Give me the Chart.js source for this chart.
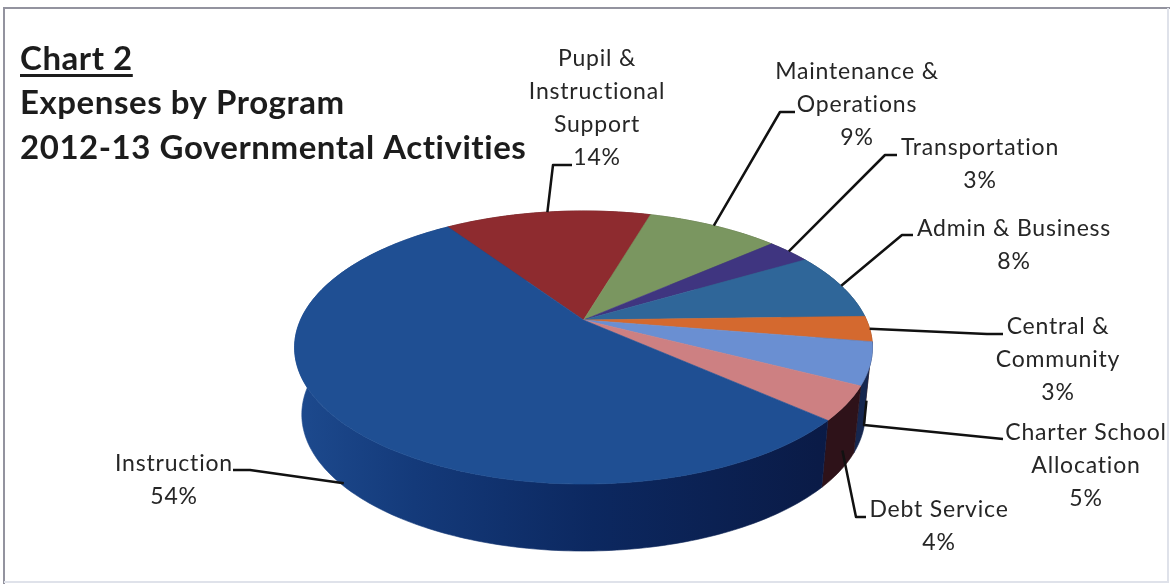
<!DOCTYPE html>
<html>
<head>
<meta charset="utf-8">
<title>Expenses by Program</title>
<script src="https://cdn.jsdelivr.net/npm/chart.js@4"></script>
<style>
  html, body { margin: 0; padding: 0; background: #fff; }
  canvas { display: block; }
</style>
</head>
<body>
<canvas id="chart" width="1170" height="585"></canvas>
<script>
// Program categories, clockwise from the upper left of the pie
const categories = ['Pupil & Instructional Support', 'Maintenance & Operations', 'Transportation',
  'Admin & Business', 'Central & Community', 'Charter School Allocation', 'Debt Service', 'Instruction'];
const shares = [14, 9, 3, 8, 3, 5, 4, 54];
const titleLines = ['Chart 2', 'Expenses by Program', '2012-13 Governmental Activities'];
const labelLines = [
  ['Pupil &', 'Instructional', 'Support'],
  ['Maintenance &', 'Operations'],
  ['Transportation'],
  ['Admin & Business'],
  ['Central &', 'Community'],
  ['Charter School', 'Allocation'],
  ['Debt Service'],
  ['Instruction']
];
const topColors = ['#8e2b2f', '#7a9660', '#3f3580', '#2f6699', '#d4692f', '#6a8fd2', '#cd8082', '#1f4f93'];
const wallColors = ['#5c1a1d', '#4f6339', '#29224f', '#1c4064', '#7d3a15', '#16274f', '#2e1219', '#0f2c66'];

// Label block centres and leader paths (slice anchor is computed from the arc)
const labelBoxes = [
  { x: 597, y: 59 }, { x: 857, y: 72 }, { x: 980, y: 148 }, { x: 1014, y: 229 },
  { x: 1058, y: 327 }, { x: 1086, y: 433 }, { x: 939, y: 510 }, { x: 174, y: 464 }
];
const leaderBends = [
  [[553, 165], [572, 165]],
  [[780, 112], [795, 112]],
  [[885, 155], [897, 155]],
  [[902, 235], [913, 235]],
  [[987, 334], [1003, 334]],
  [[864, 425], [1003, 439]],
  [[856, 517], [866, 517]],
  [[250, 470], [233, 470]]
];
const leaderDepth = [0, 0, 0, 0, 0, 0.55, 0.7, 0.95];

// Oblique view of the disc: a circle under a one-point perspective
const view = { cx: 583.5, cy: 320, a: 283, b: 131, k: -0.2015, depth: 67, shrink: 0.975 };
function project(angle, level) {
  const X = Math.cos(angle), Y = Math.sin(angle);
  const w = 1 + view.k * Y;
  const s = 1 + (view.shrink - 1) * level;
  return {
    x: view.cx + s * view.a * X / w,
    y: view.cy + view.b * Y / w + view.depth * level
  };
}
function rimAngles(start, end) {
  const steps = Math.max(2, Math.ceil((end - start) / (Math.PI / 180)));
  const out = [];
  for (let i = 0; i <= steps; i++) out.push(start + (end - start) * i / steps);
  return out;
}

const disc3d = {
  id: 'disc3d',
  beforeDraw(chart) {
    const c = chart.ctx;
    c.save();
    c.strokeStyle = '#93939f';
    c.lineWidth = 2;
    c.beginPath();
    c.moveTo(4, 584); c.lineTo(4, 8); c.lineTo(1170, 8);
    c.stroke();
    c.strokeStyle = '#dfe2ea';
    c.beginPath();
    c.moveTo(4, 582); c.lineTo(1168, 582); c.lineTo(1168, 8);
    c.stroke();
    c.restore();
    // Slightly open tracking for the bold title block
    c.letterSpacing = '0.55px';
  },
  beforeDatasetDraw(chart, args) {
    const c = chart.ctx;
    c.letterSpacing = '0px';
    const arcs = chart.getDatasetMeta(args.index).data;
    c.save();
    // Outer wall, back to front
    const order = arcs.map((_, i) => i).sort((p, q) =>
      Math.sin((arcs[p].startAngle + arcs[p].endAngle) / 2) - Math.sin((arcs[q].startAngle + arcs[q].endAngle) / 2));
    order.forEach(i => {
      const arc = arcs[i];
      const ring = rimAngles(arc.startAngle, arc.endAngle);
      c.beginPath();
      ring.forEach((t, n) => { const p = project(t, 0); n ? c.lineTo(p.x, p.y) : c.moveTo(p.x, p.y); });
      ring.slice().reverse().forEach(t => { const p = project(t, 1); c.lineTo(p.x, p.y); });
      c.closePath();
      let fill = wallColors[i];
      if (i === arcs.length - 1) {
        fill = c.createLinearGradient(295, 0, 835, 0);
        fill.addColorStop(0, '#1d4a8e');
        fill.addColorStop(0.22, '#143a7a');
        fill.addColorStop(0.55, '#0c2860');
        fill.addColorStop(1, '#0a1a45');
      }
      c.fillStyle = fill;
      c.strokeStyle = fill;
      c.lineWidth = 0.6;
      c.fill();
      c.stroke();
    });
    // Top face
    arcs.forEach((arc, i) => {
      c.beginPath();
      c.moveTo(view.cx, view.cy);
      rimAngles(arc.startAngle, arc.endAngle).forEach(t => {
        const p = project(t, 0);
        c.lineTo(p.x, p.y);
      });
      c.closePath();
      c.fillStyle = topColors[i];
      c.strokeStyle = topColors[i];
      c.lineWidth = 0.6;
      c.fill();
      c.stroke();
    });
    c.restore();
    return false;
  },
  afterDraw(chart) {
    const c = chart.ctx;
    const arcs = chart.getDatasetMeta(0).data;
    c.save();
    // Underline beneath the first title line
    const tb = chart.titleBlock;
    const tf = chart.options.plugins.title.font;
    c.letterSpacing = '0.55px';
    c.font = tf.weight + ' ' + tf.size + 'px Lato';
    c.fillStyle = '#1c1c1c';
    c.fillRect(tb.left, 74, c.measureText(titleLines[0]).width, 3);

    // Leader lines
    c.strokeStyle = '#111';
    c.lineWidth = 2.5;
    c.lineJoin = 'round';
    arcs.forEach((arc, i) => {
      const mid = (arc.startAngle + arc.endAngle) / 2;
      const from = project(mid, leaderDepth[i]);
      c.beginPath();
      c.moveTo(from.x, from.y);
      leaderBends[i].forEach(pt => c.lineTo(pt[0], pt[1]));
      c.stroke();
    });

    // Category name and share
    c.letterSpacing = '0.8px';
    c.font = '23px Lato';
    c.fillStyle = '#262626';
    c.textAlign = 'center';
    c.textBaseline = 'middle';
    const lineGap = 32.7;
    labelLines.forEach((lines, i) => {
      const box = labelBoxes[i];
      lines.concat(shares[i] + '%').forEach((text, n) => c.fillText(text, box.x, box.y + n * lineGap));
    });
    c.restore();
  }
};

new Chart(document.getElementById('chart'), {
  type: 'pie',
  data: {
    labels: categories,
    datasets: [{ data: shares, backgroundColor: topColors, borderWidth: 0 }]
  },
  options: {
    responsive: false,
    animation: false,
    rotation: -34,
    layout: { padding: { left: 20 } },
    plugins: {
      legend: { display: false },
      tooltip: { enabled: false },
      title: {
        display: true,
        text: titleLines,
        align: 'start',
        color: '#1c1c1c',
        font: { family: 'Lato', size: 33, weight: 'bold', lineHeight: 1.35 },
        padding: { top: 37, bottom: 0 }
      }
    }
  },
  plugins: [disc3d]
});
</script>
</body>
</html>
